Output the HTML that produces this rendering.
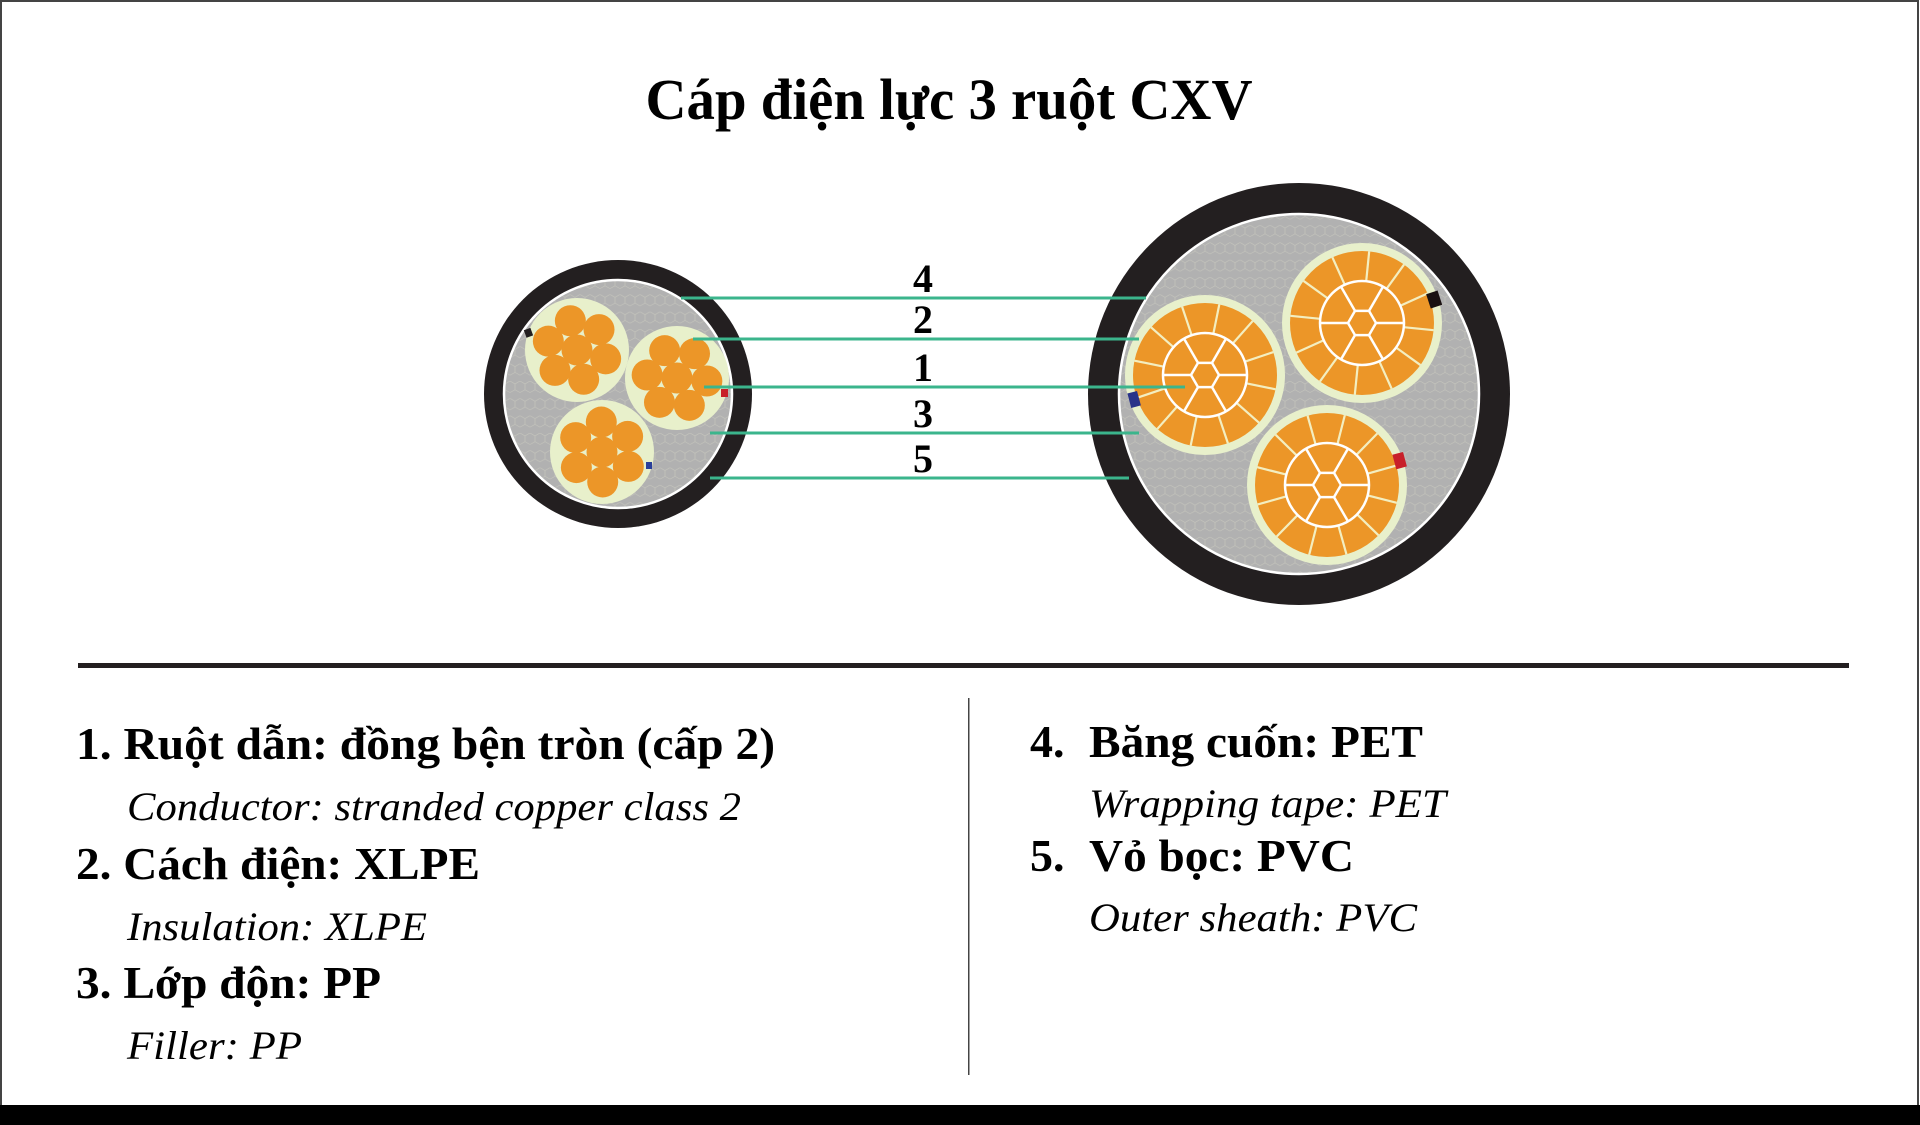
<!DOCTYPE html>
<html><head><meta charset="utf-8">
<style>html,body{margin:0;padding:0;background:#fff}svg{display:block}</style>
</head><body>
<svg id="s" width="1920" height="1125" viewBox="0 0 1920 1125" xmlns="http://www.w3.org/2000/svg">
<defs>
<pattern id="hex" width="10" height="17.32" patternUnits="userSpaceOnUse">
<rect width="10" height="17.32" fill="#b1b1b1"/>
<path d="M0 0 L5 2.9 L5 8.66 L0 11.5 M5 8.66 L10 11.5 M5 2.9 L10 0" stroke="#c4c4bc" stroke-width="0.7" fill="none"/>
</pattern>
</defs>
<rect x="0" y="0" width="1920" height="1125" fill="#fff"/>
<rect x="1" y="1" width="1917" height="1110" fill="none" stroke="#444" stroke-width="2"/>
<rect x="0" y="1105" width="1920" height="20" fill="#000"/>

<text x="949" y="119" text-anchor="middle" font-family="Liberation Serif, serif" font-weight="bold" font-size="58" textLength="607" lengthAdjust="spacingAndGlyphs">Cáp điện lực 3 ruột CXV</text>

<circle cx="618" cy="394" r="134" fill="#231f20"/>
<circle cx="618" cy="394" r="114" fill="url(#hex)" stroke="#fff" stroke-width="2.5"/>
<g id="small"></g>

<circle cx="1299" cy="394" r="211" fill="#231f20"/>
<circle cx="1299" cy="394" r="180" fill="url(#hex)" stroke="#fff" stroke-width="2.5"/>
<g id="large"></g>

<g stroke="#3bb58c" stroke-width="3">
<line x1="681" y1="298" x2="1146" y2="298"/>
<line x1="693" y1="339" x2="1139" y2="339"/>
<line x1="704" y1="387" x2="1185" y2="387"/>
<line x1="710" y1="433" x2="1139" y2="433"/>
<line x1="710" y1="478" x2="1129" y2="478"/>
</g>
<g font-family="Liberation Serif, serif" font-weight="bold" font-size="40" text-anchor="middle">
<text x="923" y="292">4</text>
<text x="923" y="333">2</text>
<text x="923" y="381">1</text>
<text x="923" y="427">3</text>
<text x="923" y="472">5</text>
</g>

<rect x="78" y="663" width="1771" height="5" fill="#231f20"/>
<rect x="968" y="698" width="1.5" height="377" fill="#444"/>

<g font-family="Liberation Serif, serif" font-weight="bold" font-size="46">
<text x="76" y="759" textLength="699" lengthAdjust="spacingAndGlyphs">1. Ruột dẫn: đồng bện tròn (cấp 2)</text>
<text x="76" y="879" textLength="404" lengthAdjust="spacingAndGlyphs">2. Cách điện: XLPE</text>
<text x="76" y="998" textLength="305" lengthAdjust="spacingAndGlyphs">3. Lớp độn: PP</text>
<text x="1030" y="757">4.</text>
<text x="1089" y="757" textLength="334" lengthAdjust="spacingAndGlyphs">Băng cuốn: PET</text>
<text x="1030" y="871">5.</text>
<text x="1089" y="871" textLength="265" lengthAdjust="spacingAndGlyphs">Vỏ bọc: PVC</text>
</g>
<g font-family="Liberation Serif, serif" font-style="italic" font-size="40">
<text x="127" y="820" textLength="614" lengthAdjust="spacingAndGlyphs">Conductor: stranded copper class 2</text>
<text x="127" y="940" textLength="300" lengthAdjust="spacingAndGlyphs">Insulation: XLPE</text>
<text x="127" y="1059" textLength="175" lengthAdjust="spacingAndGlyphs">Filler: PP</text>
<text x="1089" y="817" textLength="357" lengthAdjust="spacingAndGlyphs">Wrapping tape: PET</text>
<text x="1089" y="931" textLength="328" lengthAdjust="spacingAndGlyphs">Outer sheath: PVC</text>
</g>
</svg>
<script>
var NS="http://www.w3.org/2000/svg";
function el(p,t,a){var e=document.createElementNS(NS,t);for(var k in a)e.setAttribute(k,a[k]);p.appendChild(e);return e;}
var sm=document.getElementById("small");
[[577,350,0.3],[677,378,0.1],[602,452,0.5]].forEach(function(c){
 el(sm,"circle",{cx:c[0],cy:c[1],r:52,fill:"#e8f0cb"});
 for(var i=0;i<6;i++){var a=c[2]+i*Math.PI/3;
  el(sm,"circle",{cx:c[0]+30*Math.cos(a),cy:c[1]+30*Math.sin(a),r:15.5,fill:"#ec9628"});}
 el(sm,"circle",{cx:c[0],cy:c[1],r:15.5,fill:"#ec9628"});
});
el(sm,"rect",{x:525,y:329,width:7,height:8,fill:"#231f20",transform:"rotate(-20 528 333)"});
el(sm,"rect",{x:721,y:389,width:7,height:8,fill:"#c8202a"});
el(sm,"rect",{x:646,y:462,width:6,height:7,fill:"#2a3f9a"});
var lg=document.getElementById("large");
[[1205,375,0.2],[1362,323,0.1],[1327,485,0.25]].forEach(function(c){
 var x=c[0],y=c[1];
 el(lg,"circle",{cx:x,cy:y,r:80,fill:"#e8f0cb"});
 el(lg,"circle",{cx:x,cy:y,r:72,fill:"#ec9628"});
 for(var i=0;i<12;i++){var a=c[2]+i*Math.PI/6;
  el(lg,"line",{x1:x+42*Math.cos(a),y1:y+42*Math.sin(a),x2:x+72*Math.cos(a),y2:y+72*Math.sin(a),stroke:"#f3eec0","stroke-width":2.2});}
 el(lg,"circle",{cx:x,cy:y,r:42,fill:"none",stroke:"#fff","stroke-width":2.5});
 var pts=[];
 for(var i=0;i<6;i++){var a=i*Math.PI/3;var hx=x+14*Math.cos(a),hy=y+14*Math.sin(a);pts.push(hx+","+hy);
  el(lg,"line",{x1:hx,y1:hy,x2:x+42*Math.cos(a),y2:y+42*Math.sin(a),stroke:"#fff","stroke-width":2.5});}
 el(lg,"polygon",{points:pts.join(" "),fill:"none",stroke:"#fff","stroke-width":2.5});
});
el(lg,"rect",{x:1428,y:292,width:12,height:15,fill:"#1a1111",transform:"rotate(-18 1434 299)"});
el(lg,"rect",{x:1129,y:392,width:10,height:15,fill:"#2a3388",transform:"rotate(-15 1134 399)"});
el(lg,"rect",{x:1394,y:453,width:11,height:15,fill:"#c8202a",transform:"rotate(-15 1400 460)"});
</script>
</body></html>
